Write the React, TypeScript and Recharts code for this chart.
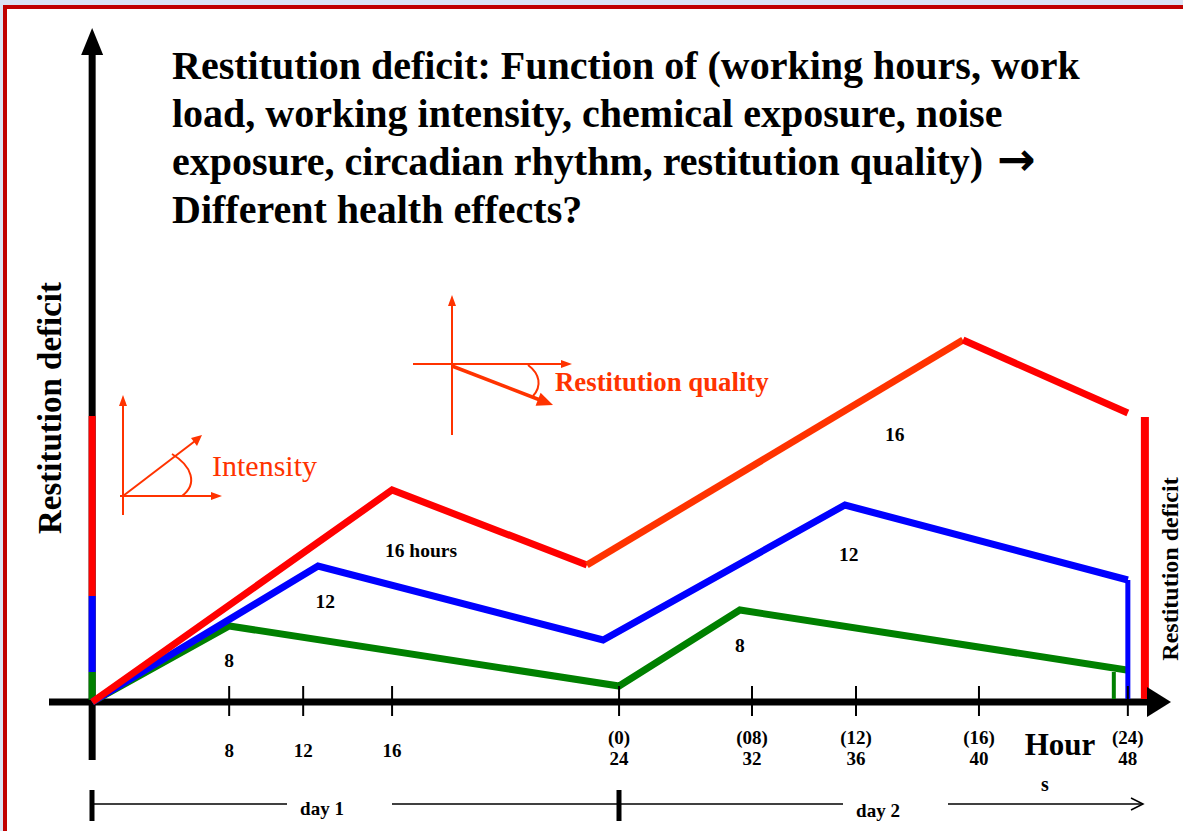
import React from 'react';
import { ComposedChart, Line, XAxis, YAxis, ReferenceDot } from 'recharts';

// The drawing is not to scale, so x is a "position" in hour-like units read off the picture
const tickPositions = [6.35, 9.78, 13.9, 24.42, 30.58, 35.4, 41.1, 48];
const tickHours = ['8', '12', '16', '24', '32', '36', '40', '48'];
const tickClock = ['', '', '', '(0)', '(08)', '(12)', '(16)', '(24)'];

// restitution deficit curves (y = deficit, arbitrary units)
const greenLine = [
  { x: 0, y: 0 },
  { x: 6.35, y: 7.6 },
  { x: 24.42, y: 1.6 },
  { x: 30.02, y: 9.2 },
  { x: 47.95, y: 3.2 },
];
const blueLine = [
  { x: 0, y: 0 },
  { x: 10.47, y: 13.6 },
  { x: 23.68, y: 6.2 },
  { x: 34.89, y: 19.7 },
  { x: 48, y: 12.2 },
];
const redRise = [
  { x: 0, y: 0 },
  { x: 13.9, y: 21.2 },
  { x: 22.93, y: 13.7 },
];
const orangeRise = [
  { x: 22.93, y: 13.7 },
  { x: 40.36, y: 36.2 },
];
const redFall = [
  { x: 40.36, y: 36.2 },
  { x: 48, y: 28.9 },
];

// end-of-period deficit bars
const greenEnd = [{ x: 47.35, y: 3.0 }, { x: 47.35, y: 0.3 }];
const blueEnd = [{ x: 48, y: 12.2 }, { x: 48, y: 0.3 }];
const redEnd = [{ x: 48.79, y: 28.5 }, { x: 48.79, y: 0.3 }];

// coloured marks on the y axis
const leftRed = [{ x: 0, y: 28.6 }, { x: 0, y: 10.6 }];
const leftBlue = [{ x: 0, y: 10.6 }, { x: 0, y: 3.0 }];
const leftGreen = [{ x: 0, y: 3.0 }, { x: 0, y: 0.2 }];

// axes
const xAxisLine = [{ x: -2, y: 0 }, { x: 49, y: 0 }];
const yAxisLine = [{ x: 0, y: -5.8 }, { x: 0, y: 65 }];

// working-hours labels
const segmentLabels = [
  { x: 6.35, y: 4.2, text: '8' },
  { x: 10.8, y: 10.1, text: '12' },
  { x: 15.24, y: 15.2, text: '16 hours' },
  { x: 30.02, y: 5.7, text: '8' },
  { x: 35.07, y: 14.8, text: '12' },
  { x: 37.2, y: 26.8, text: '16' },
];

const titleLines = [
  'Restitution deficit: Function of (working hours, work',
  'load, working intensity, chemical exposure, noise',
  'exposure, circadian rhythm, restitution quality) ',
  'Different health effects?',
];

const SERIF = "'Liberation Serif', 'Times New Roman', serif";
const RED = '#ff0000';
const BLUE = '#0000ff';
const GREEN = '#008000';
const ORANGE = '#ff3300';

const HourTick = (props: any) => {
  const { x, y, index } = props;
  const clock = tickClock[index];
  return (
    <g>
      <line x1={x} x2={x} y1={y - 76} y2={y - 46} stroke="#000" strokeWidth={2} />
      {clock ? (
        <>
          <text x={x} y={y - 25} textAnchor="middle" dominantBaseline="central" fontFamily={SERIF} fontWeight="bold" fontSize={19} fill="#000">
            {clock}
          </text>
          <text x={x} y={y - 4} textAnchor="middle" dominantBaseline="central" fontFamily={SERIF} fontWeight="bold" fontSize={19} fill="#000">
            {tickHours[index]}
          </text>
        </>
      ) : (
        <text x={x} y={y - 12} textAnchor="middle" dominantBaseline="central" fontFamily={SERIF} fontWeight="bold" fontSize={19} fill="#000">
          {tickHours[index]}
        </text>
      )}
    </g>
  );
};

const seg = (data: { x: number; y: number }[], color: string, width: number, key: string) => (
  <Line
    key={key}
    data={data}
    dataKey="y"
    type="linear"
    stroke={color}
    strokeWidth={width}
    strokeLinecap="butt"
    dot={false}
    activeDot={false}
    isAnimationActive={false}
  />
);

const Overlay = () => (
  <svg width={1183} height={831} style={{ position: 'absolute', left: 0, top: 0, pointerEvents: 'none' }}>
    {/* title */}
    <text fontFamily={SERIF} fontWeight="bold" fontSize={40} fill="#000">
      <tspan x={172} y={79}>{titleLines[0]}</tspan>
      <tspan x={172} y={127}>{titleLines[1]}</tspan>
      <tspan x={172} y={175}>
        {titleLines[2]}
        <tspan dx={4} fontFamily="'DejaVu Sans', sans-serif" fontSize={46}>→</tspan>
      </tspan>
      <tspan x={172} y={223}>{titleLines[3]}</tspan>
    </text>

    {/* axis titles */}
    <text x={50} y={408} transform="rotate(-90 50 408)" textAnchor="middle" dominantBaseline="central" fontFamily={SERIF} fontWeight="bold" fontSize={33} fill="#000">
      Restitution deficit
    </text>
    <text x={1170} y={569} transform="rotate(-90 1170 569)" textAnchor="middle" dominantBaseline="central" fontFamily={SERIF} fontWeight="bold" fontSize={24} fill="#000">
      Restitution deficit
    </text>
    <text x={1060} y={744} textAnchor="middle" dominantBaseline="central" fontFamily={SERIF} fontWeight="bold" fontSize={31} fill="#000">
      Hour
    </text>
    <text x={1045} y={784} textAnchor="middle" dominantBaseline="central" fontFamily={SERIF} fontWeight="bold" fontSize={20} fill="#000">
      s
    </text>

    {/* intensity sketch */}
    <g stroke={ORANGE} strokeWidth={2} fill="none">
      <line x1={123} y1={404} x2={123} y2={515} />
      <line x1={120} y1={496} x2={213} y2={496} />
      <line x1={123} y1={496} x2={195} y2={441} />
      <path d="M172 454 C192 466 198 484 182 496" />
    </g>
    <g fill={ORANGE}>
      <polygon points="123,395 119,406 127,406" />
      <polygon points="222,496 211,492 211,500" />
      <polygon points="202,435 191,438 197,446" />
    </g>
    <text x={212} y={476} fontFamily={SERIF} fontSize={30} fill={ORANGE}>Intensity</text>

    {/* restitution quality sketch */}
    <g stroke={ORANGE} strokeWidth={2} fill="none">
      <line x1={452} y1={304} x2={452} y2={435} />
      <line x1={413} y1={364} x2={563} y2={364} />
      <path d="M528 365 C540 374 542 386 533 396" />
    </g>
    <line x1={452} y1={366} x2={540} y2={400} stroke={ORANGE} strokeWidth={3.5} />
    <g fill={ORANGE}>
      <polygon points="452,295 448,306 456,306" />
      <polygon points="572,364 561,360 561,368" />
      <polygon points="553,405 535.6,405.7 540.6,392.7" />
    </g>
    <text x={555} y={391} fontFamily={SERIF} fontWeight="bold" fontSize={26.8} fill={ORANGE}>Restitution quality</text>

    {/* day brackets */}
    <g stroke="#000">
      <line x1={92} y1={790} x2={92} y2={821} strokeWidth={5} />
      <line x1={619} y1={790} x2={619} y2={821} strokeWidth={5} />
      <line x1={92} y1={804} x2={287} y2={804} strokeWidth={1.5} />
      <line x1={392} y1={804} x2={619} y2={804} strokeWidth={1.5} />
      <line x1={619} y1={804} x2={843} y2={804} strokeWidth={1.5} />
      <line x1={948} y1={804} x2={1143} y2={804} strokeWidth={1.5} />
      <polyline points="1131,798 1143,804 1131,810" fill="none" strokeWidth={1.5} />
    </g>
    <text x={322} y={808} textAnchor="middle" dominantBaseline="central" fontFamily={SERIF} fontWeight="bold" fontSize={19} fill="#000">day 1</text>
    <text x={878} y={810} textAnchor="middle" dominantBaseline="central" fontFamily={SERIF} fontWeight="bold" fontSize={19} fill="#000">day 2</text>
  </svg>
);

export default function App() {
  return (
    <div style={{ position: 'absolute', left: 0, top: 0, width: 1183, height: 831, overflow: 'hidden', background: '#dae3f3' }}>
      <div style={{ position: 'absolute', left: 3, top: 5, width: 1200, height: 850, border: '4px solid #c00000', background: '#fff' }} />
      <div style={{ position: 'absolute', left: 0, top: 0 }}>
        <ComposedChart width={1183} height={831} margin={{ top: 22, right: 12, bottom: 39, left: 49 }}>
          <XAxis
            dataKey="x"
            type="number"
            domain={[-2, 50]}
            allowDataOverflow
            ticks={tickPositions}
            interval={0}
            axisLine={false}
            tickLine={false}
            tickSize={0}
            tickMargin={0}
            height={30}
            tick={<HourTick />}
          />
          <YAxis type="number" domain={[-6, 68]} allowDataOverflow hide />
          {seg(xAxisLine, '#000', 7, 'xaxis')}
          {seg(yAxisLine, '#000', 7, 'yaxis')}
          {seg(leftRed, RED, 7, 'lr')}
          {seg(leftBlue, BLUE, 7, 'lb')}
          {seg(leftGreen, GREEN, 7, 'lg')}
          {seg(greenLine, GREEN, 7, 'g')}
          {seg(blueLine, BLUE, 7, 'b')}
          {seg(redRise, RED, 7, 'r1')}
          {seg(orangeRise, ORANGE, 7, 'r2')}
          {seg(redFall, RED, 7, 'r3')}
          {seg(greenEnd, GREEN, 4, 'ge')}
          {seg(blueEnd, BLUE, 5, 'be')}
          {seg(redEnd, RED, 8, 're')}
          <ReferenceDot
            x={50}
            y={0}
            r={0}
            shape={(p: any) => (
              <polygon points={`${p.cx},${p.cy} ${p.cx - 24},${p.cy - 15} ${p.cx - 24},${p.cy + 15}`} fill="#000" />
            )}
          />
          <ReferenceDot
            x={0}
            y={67.4}
            r={0}
            shape={(p: any) => (
              <polygon points={`${p.cx},${p.cy} ${p.cx - 11},${p.cy + 27} ${p.cx + 11},${p.cy + 27}`} fill="#000" />
            )}
          />
          {segmentLabels.map((s, i) => (
            <ReferenceDot
              key={`lab-${i}`}
              x={s.x}
              y={s.y}
              r={0}
              fill="none"
              stroke="none"
              label={{ value: s.text, position: 'center', fill: '#000', fontSize: 19.5, fontWeight: 'bold', fontFamily: SERIF }}
            />
          ))}
        </ComposedChart>
      </div>
      <Overlay />
    </div>
  );
}
